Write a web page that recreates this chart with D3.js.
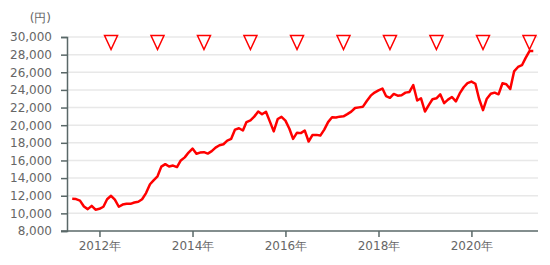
<!DOCTYPE html>
<html>
<head>
<meta charset="utf-8">
<script src="https://cdn.jsdelivr.net/npm/d3@7"></script>
<style>
  html, body { margin: 0; padding: 0; background: #fff; }
  svg { display: block; font-family: "DejaVu Sans", sans-serif; }
</style>
</head>
<body>
<svg id="chart" width="550" height="265"></svg>
<script>
//
// Data
//

// monthly closing price, first value is June 2011
const startMonth = new Date(2011, 5, 1);
const prices = [
  11650, 11620, 11450, 10780, 10480, 10850, 10420, 10520, 10750, 11600,
  11990, 11550, 10750, 11000, 11100, 11080, 11230, 11320, 11600, 12300,
  13300, 13750, 14200, 15300, 15580, 15310, 15420, 15250, 16000, 16350,
  16900, 17350, 16760, 16890, 16940, 16780, 17050, 17450, 17720, 17840,
  18250, 18450, 19500, 19650, 19400, 20350, 20550, 20970, 21550, 21240,
  21520, 20400, 19300, 20700, 20950, 20520, 19600, 18450, 19150, 19100,
  19390, 18150, 18900, 18900, 18820, 19500, 20350, 20900, 20880, 20970,
  21000, 21250, 21540, 21950, 22020, 22100, 22750, 23350, 23700, 23950,
  24150, 23300, 23100, 23540, 23350, 23390, 23690, 23770, 24550, 22800,
  23050, 21550, 22300, 22940, 23050, 23500, 22500, 22900, 23200, 22700,
  23600, 24300, 24760, 24940, 24700, 23000, 21700, 23000, 23560, 23690,
  23500, 24750, 24650, 24100, 26100, 26600, 26800, 27600, 28400, 28400
];
// years with a marker (placed at April)
const markerYears = [2012, 2013, 2014, 2015, 2016, 2017, 2018, 2019, 2020, 2021];
const markerValue = 30000;
// axis ticks
const yTicks = [8000, 10000, 12000, 14000, 16000, 18000, 20000, 22000, 24000, 26000, 28000, 30000];
const xTickYears = [2012, 2014, 2016, 2018, 2020];
const unitLabel = "(円)";

//
// Layout
//

const plotLeft = 67, plotRight = 538, plotTop = 37, plotBottom = 231;
const textColor = "#666";
const axisColor = "#5a6868";
const gridColor = "#e8e8e8";
const lineColor = "#ff0000";

const svg = d3.select("#chart");

const x = d3.scaleTime()
  .domain([new Date(2011, 3, 21), new Date(2021, 5, 7)])
  .range([plotLeft, plotRight]);
const y = d3.scaleLinear()
  .domain([8000, 30000])
  .range([plotBottom, plotTop]);

const data = prices.map((v, i) => ({ date: d3.timeMonth.offset(startMonth, i), value: v }));

// grid
svg.append("g")
  .selectAll("line")
  .data(yTicks.slice(1))
  .join("line")
  .attr("x1", plotLeft)
  .attr("x2", plotRight)
  .attr("y1", d => y(d))
  .attr("y2", d => y(d))
  .attr("stroke", gridColor)
  .attr("stroke-width", 1.5);

// y axis
const yAxis = svg.append("g")
  .attr("transform", `translate(${plotLeft},0)`)
  .call(d3.axisLeft(y).tickValues(yTicks).tickSize(6).tickPadding(9).tickFormat(d3.format(",")));

// x axis
const xAxis = svg.append("g")
  .attr("transform", `translate(0,${plotBottom})`)
  .call(d3.axisBottom(x)
    .tickValues(xTickYears.map(yr => new Date(yr, 0, 1)))
    .tickSize(6)
    .tickPadding(4)
    .tickFormat(d => d.getFullYear() + "年"));

[yAxis, xAxis].forEach(g => {
  g.select(".domain").attr("stroke", axisColor).attr("stroke-width", 1.5);
  g.selectAll(".tick line").attr("stroke", axisColor).attr("stroke-width", 1.5);
  g.selectAll(".tick text")
    .attr("fill", textColor)
    .style("font-size", "12px")
    .style("font-family", "'DejaVu Sans', sans-serif");
});
// the x axis line starts at the left tick end
xAxis.select(".domain").attr("d", `M${plotLeft - 6},0H${plotRight}`);

// unit
svg.append("text")
  .attr("x", 51)
  .attr("y", 22)
  .attr("text-anchor", "end")
  .attr("fill", textColor)
  .style("font-size", "12px")
  .text(unitLabel);

// price line
const line = d3.line()
  .x(d => x(d.date))
  .y(d => y(d.value));

svg.append("path")
  .datum(data)
  .attr("d", line)
  .attr("fill", "none")
  .attr("stroke", lineColor)
  .attr("stroke-width", 2.5)
  .attr("stroke-linejoin", "round");

// markers (downward triangles)
svg.append("g")
  .selectAll("path")
  .data(markerYears)
  .join("path")
  .attr("transform", d => `translate(${x(new Date(d, 3, 1))},${y(markerValue)})`)
  .attr("d", "M-6.5,-1.5L6.5,-1.5L0,12.5Z")
  .attr("fill", "#fff")
  .attr("stroke", lineColor)
  .attr("stroke-width", 1.5);
</script>
</body>
</html>
